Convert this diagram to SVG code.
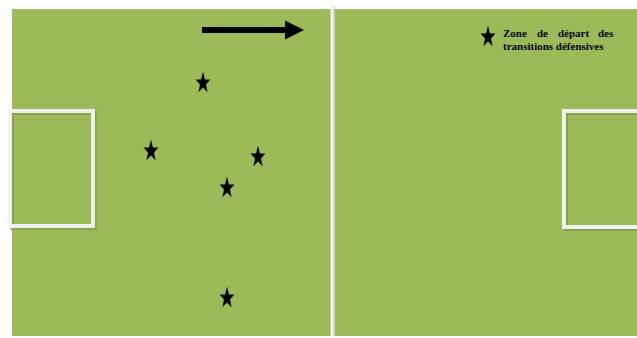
<svg xmlns="http://www.w3.org/2000/svg" width="637" height="338" viewBox="0 0 637 338">
<style>
.field{fill:#9BBB59}
.line{fill:none;stroke:#F2F2F2;stroke-width:4}
.shadow{fill:none;stroke:#7a8f4a;stroke-width:4;opacity:0.6}
.lbl{font-family:"Liberation Serif","Times New Roman",serif;font-weight:bold;font-size:11px;fill:#000}
</style>
<defs>
<polygon id="star" points="0,-11.5 1.9,-3.6 7.4,-3.5 3,1.4 4.6,9.3 0,4.6 -4.6,9.3 -3,1.4 -7.4,-3.5 -1.9,-3.6" fill="#000"/>
</defs>
<rect x="0" y="0" width="637" height="338" fill="#fff"/>
<g id="pitch">
<rect class="field" x="12" y="9" width="625" height="327"/>
<line x1="333" y1="7" x2="333" y2="336" stroke="#c9c9c9" stroke-width="4"/>
<line x1="332" y1="5" x2="332" y2="336" stroke="#F4F4F4" stroke-width="3"/>
</g>
<g id="goal-left">
<rect class="shadow" x="12" y="113" width="83" height="115"/>
<rect class="line" x="10" y="111" width="83" height="115"/>
</g>
<g id="goal-right">
<path class="shadow" d="M640,113 H566 V229 H640"/>
<path class="line" d="M640,111 H564 V227 H640"/>
</g>
<g id="connectors">
<line x1="202" y1="30" x2="287" y2="30" stroke="#000" stroke-width="6"/>
<polygon points="285,20.5 304,30 285,39.5" fill="#000"/>
</g>
<g id="stars">
<use href="#star" x="203" y="83"/>
<use href="#star" x="151" y="151"/>
<use href="#star" x="258" y="157"/>
<use href="#star" x="227" y="188"/>
<use href="#star" x="227" y="298"/>
</g>
<g id="legend">
<use href="#star" x="488" y="37"/>
<text class="lbl" y="37"><tspan x="503">Zone</tspan><tspan x="537">de</tspan><tspan x="558">départ</tspan><tspan x="598">des</tspan></text>
<text class="lbl" x="503" y="50">transitions défensives</text>
</g>
</svg>
